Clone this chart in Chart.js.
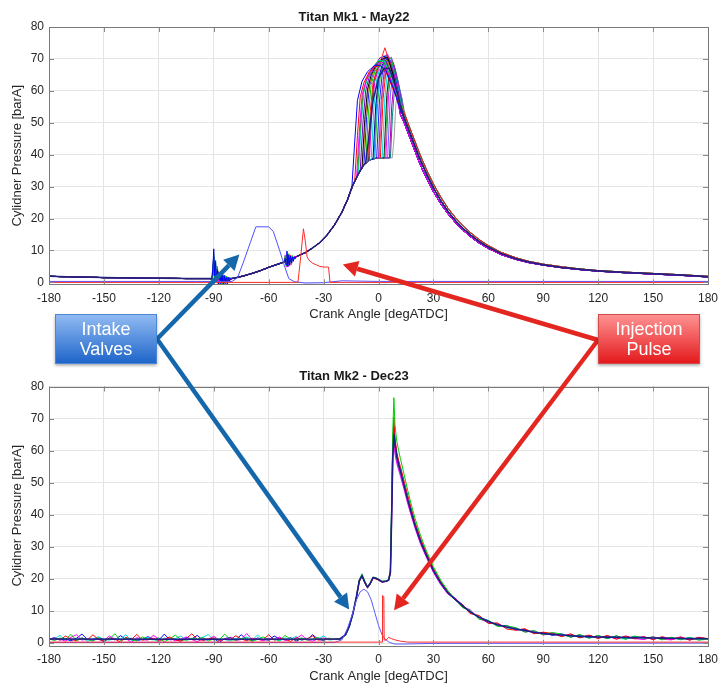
<!DOCTYPE html>
<html><head><meta charset="utf-8">
<script src="https://cdn.jsdelivr.net/npm/chart.js@4.4.1/dist/chart.umd.min.js"></script>
<style>
html,body{margin:0;padding:0;background:#fff;}
#wrap{position:relative;width:727px;height:684px;overflow:hidden;background:#fff;}
#c1{position:absolute;left:0;top:0;width:727px;height:330px;}
#c2{position:absolute;left:0;top:360px;width:727px;height:324px;}
#ov{position:absolute;left:0;top:0;width:727px;height:684px;pointer-events:none;}
</style></head><body>
<div id="wrap">
<canvas id="c1" width="727" height="330"></canvas>
<canvas id="c2" width="727" height="324"></canvas>
<canvas id="ov" width="727" height="684"></canvas>
</div>
<script>
// ---------------- DATA ----------------
const chartTitles = ['Titan Mk1 - May22', 'Titan Mk2 - Dec23'];
const xAxisTitle = 'Crank Angle [degATDC]';
const yAxisTitle = 'Cylidner Pressure [barA]';
const xTickValues = [-180,-150,-120,-90,-60,-30,0,30,60,90,120,150,180];
const yTickValues = [0,10,20,30,40,50,60,70,80];
const annotationLabels = [['Intake','Valves'], ['Injection','Pulse']];

// Mk1 shared compression stroke
const mk1CompAngle = [-180,-165,-150,-135,-120,-105,-95,-92,-90,-86,-83,-80,-76,-72,-68,-64,-60,-56,-52,-48,-44,-40,-36,-32,-28,-24,-20,-17,-14,-11,-8,-5,-2,0,3,6,9];
const mk1CompP     = [1.9,1.7,1.5,1.4,1.3,1.2,1.2,1.2,1.0,0.7,0.9,1.2,1.7,2.3,3.0,3.8,4.7,5.5,6.3,7.3,8.3,9.3,10.8,12.5,14.9,18.0,22.0,25.8,30.5,34.0,36.8,38.3,38.8,39.0,39.0,39.0,39.0];
// Mk1 expansion stroke variants
const mk1ExpAngle = [12,14,16,18,20,22,24,27,30,34,38,42,46,50,55,60,67,75,82,90,100,110,120,135,150,165,180];
const mk1ExpPA = [54,51.5,48.5,45.5,42.5,39.5,36.8,33,29.6,25.6,22.2,19.4,17,15,12.8,11,9,7.4,6.4,5.5,4.7,4.1,3.6,3.1,2.7,2.3,1.8];
const mk1ExpPB = [55.5,53,50,47,44,41,38.2,34.3,30.8,26.7,23.2,20.3,17.8,15.7,13.4,11.5,9.4,7.7,6.6,5.7,4.9,4.2,3.7,3.2,2.8,2.4,1.9];
const mk1ExpPC = [52.5,50,47,44,41,38,35.3,31.7,28.4,24.6,21.4,18.7,16.4,14.4,12.3,10.6,8.7,7.2,6.2,5.4,4.6,4.0,3.5,3.0,2.6,2.2,1.7];
// Mk1 combustion segments, one per cycle
const mk1BurnAngle = [
 [-7,-5,-3,0,3,6,9,12],
 [-14.5,-13,-11.5,-9,-6,-2,1,4,8],
 [-13,-11.5,-10,-8,-5,-2,1,4,8],
 [-12,-10.5,-9,-7,-4,-1,2,5,9],
 [-11.5,-10,-8.5,-6.5,-3.5,-0.5,2.5,5.5,9],
 [-11,-9.5,-8,-6,-3,0,3,6,9],
 [-10,-8.5,-7,-5,-2,1,4,7,10],
 [-9,-7.5,-6,-4,-1,2,5,8,10],
 [-8.5,-7,-5.5,-3.5,-0.5,2.5,5.5,8.5],
 [-8,-6.5,-5,-3,0,3,6,9],
 [-7,-5.5,-4,-2,1,4,7,10],
 [-6,-4.5,-3,-1,1.5,3.5,6,9],
 [-5.5,-4,-2.5,-0.5,2,4.5,7,10],
 [-5,-3.5,-2,0,2.5,5,8,10.5],
 [-4,-2.5,-1,1,3,5.5,8,11],
 [-3,-1.5,0,2,4,6,9,11],
 [-2.5,-1,0.5,2.5,4.5,6.5,9,11.5],
 [-2,-0.5,1,3,5,7,9,12],
 [-1,0.5,2,4,6,8,10,12],
 [0,1.5,3,5,7,9,11,13],
 [0.5,2,3.5,5.5,7.5,9.5,12],
 [1,2.5,4,6,8,10,12],
 [2,3.5,5,7,9,11,13],
 [3,4.5,6,8,10,12],
 [3.5,5,6.5,8.5,10.5,13],
 [4,5.5,7,9,11,13],
 [5,6.5,8,10,12],
 [6,7.2,8.5,10,12,14],
 [6.5,7.6,8.8,10.3,12.5],
 [7.5,8.5,9.5,11,12.5,14]
];
const mk1BurnP = [
 [37.3,47,57,64,67,67,62,55.5],
 [30.2,44,57,63,66,68,68,66.5,61],
 [31.7,46,58,62.5,66,67.5,68,66,60.5],
 [32.8,47,58.5,63,66.5,68.5,69,66,60],
 [33.4,48,59,63.5,67,69,69.5,66,60],
 [34,49,59.5,64,67.5,69.5,69.5,66,60.5],
 [35,50,60,64.5,68,70.5,69.5,65,59],
 [35.9,51,60.5,65,68.5,70,70.5,65,59.5],
 [36.3,51.5,61,65,69,70.5,69,62.5],
 [36.8,52,61.5,65.5,69,71,68.5,62],
 [37.3,53,62,66,68.5,69.5,66,59],
 [37.8,53.5,62.5,66.5,70,73.5,69,62],
 [38.1,54,63,67,70,71,67.5,60],
 [38.3,54.5,63,67,70.5,71.5,66,60],
 [38.5,55,63.5,67.5,70,69,65,58],
 [38.6,55.5,64,68,70,69.5,64,59],
 [38.7,56,64,68,70.5,69.5,64.5,59.5],
 [38.8,56,64.5,68.5,71,70,65,57],
 [39,56.5,65,69,70,68,63,57.5],
 [39,57,65.5,69.5,70.5,67,62,56],
 [39,57,65.5,69.5,69.5,65.5,57.5],
 [39,57.5,66,69.5,69,64,58],
 [39,58,66.5,69,67,62,56.5],
 [39,58.5,66.5,68,64,58.5],
 [39,58.5,67,68,63.5,56.5],
 [39,59,66.5,67,62,57],
 [39,59,65.5,64,58.5],
 [39,55,63,63,58,53],
 [39,52,61,62.5,57.5],
 [39,45,56,61,58.5,54]
];
const mk1CycleExp = ['A','A','B','C','A','B','C','A','B','C','A','B','C','A','B','C','A','B','C','A','B','C','A','B','C','A','B','C','A','B'];
const mk1CycleColor = ['#23237a','#0000ff','#ff0000','#ff00ff','#00b400','#00d8d8','#7a00c8','#000000','#e0a000','#0000ff','#00c800','#ff2020','#404040','#e000e0','#00d0e0','#000090','#00a0ff','#20c020','#2020ff','#9020d0','#ff6060','#ff0000','#00e0e0','#202020','#40c040','#ff00ff','#6060ff','#b000b0','#008080','#a0a0a0'];
// Mk1 noise bursts (sensor ringing)
const mk1NoiseAAngle = [-92,-91.5,-91,-90.5,-90,-89.5,-89,-88.5,-88,-87.5,-87,-86.5,-86,-85.5,-85,-84.5,-84,-83.5,-83,-82.5,-82,-81.5,-81,-80.5,-80];
const mk1NoiseAP = [
 [1.2,1.1,1.4,4,10.5,2,6.5,0.5,4,1,3.2,-0.6,2.5,0.3,1.8,-0.8,2.2,0.1,1.5,-0.5,1.6,0.4,1.3,0.9,1.2],
 [1.2,1.3,1.0,3,9,1.2,7,0.2,5,1.5,2.6,0.3,3.3,-0.4,2.1,0.6,1.2,-0.3,2.0,0.2,1.1,0.7,1.5,1.0,1.2],
 [1.2,1.0,1.5,2.2,6,0.8,4,2.2,0.5,3.4,0.9,2.5,0.2,1.9,-0.5,1.6,0.6,1.4,0.1,1.7,0.5,1.3,0.8,1.1,1.2],
 [1.2,1.2,0.9,1.8,5,2.6,3.5,0.6,2.8,0.2,2.4,1.0,0.4,2.6,0.6,1.2,2.0,0.0,1.3,0.9,0.3,1.6,0.9,1.3,1.2],
 [1.2,1.3,1.1,5,8,0.4,5.5,1.2,3.2,-0.9,2.6,0.8,1.5,-0.7,2.4,0.5,0.9,-1.0,1.8,0.3,1.2,0.2,1.0,1.4,1.2],
 [1.2,1.1,1.3,2.5,7,1.0,3.0,2.8,1.0,2.2,0.0,1.9,1.0,0.5,2.0,0.8,1.5,0.4,1.1,1.5,0.6,1.2,1.4,1.0,1.2]
];
const mk1NoiseBAngle = [-52,-51.5,-51,-50.5,-50,-49.5,-49,-48.5,-48,-47.5,-47,-46.5,-46,-45.5,-45];
const mk1NoiseBP = [
 [6.3,6.5,7.5,5.6,9.8,5.0,8.6,5.5,8.2,6.1,8.0,6.6,7.9,7.4,8.05],
 [6.3,6.4,8.2,5.3,8.8,5.6,9.0,6.0,7.2,5.8,8.4,6.8,7.6,7.8,8.05],
 [6.3,6.7,6.9,6.0,7.6,5.8,8.0,5.2,8.4,6.8,7.1,7.2,7.9,7.6,8.05],
 [6.3,6.3,8.6,4.9,9.0,4.8,7.8,6.5,8.6,5.6,7.9,7.0,8.2,7.5,8.05]
];
const mk1NoiseColor = ['#0000ff','#00c000','#ff0000','#ff00ff','#000080','#00d0d0'];
// Mk1 intake valve lift and injection pulse
const mk1ValveAngle = [-180,-100,-80,-77,-74,-70,-67,-60,-57.5,-54,-51,-49,-46,-40,-30,-20,0,180];
const mk1ValveP     = [0.3,0.3,0.3,1.5,6,12.5,17.4,17.4,16,10,4.5,1.2,0.2,-0.2,-0.1,0.5,0.3,0.3];
const mk1InjAngle = [-180,-44,-42.5,-41,-40,-39,-38,-36,-34,-32,-30,-28,-27.3,-26.5,180];
const mk1InjP     = [0,0,8,16.8,13,8,7,6,5.5,5,4.8,4.8,4.8,0,0];

// Mk2 noisy intake stroke, 3 deg steps
const mk2BaseAngle = [-180,-177,-174,-171,-168,-165,-162,-159,-156,-153,-150,-147,-144,-141,-138,-135,-132,-129,-126,-123,-120,-117,-114,-111,-108,-105,-102,-99,-96,-93,-90,-87,-84,-81,-78,-75,-72,-69,-66,-63,-60,-57,-54,-51,-48,-45,-42,-39,-36,-33,-30,-27,-24];
const mk2BaseP = [
 [1.3,0.8,1.6,1.1,2.7,0.9,1.4,1.2,0.6,1.7,1.0,1.3,2.9,0.8,1.5,1.1,0.7,1.9,1.2,1.0,1.6,0.4,1.3,2.5,1.1,0.9,1.5,1.2,1.8,0.7,1.3,1.0,2.8,1.1,0.9,1.4,1.6,0.5,1.2,1.9,1.0,1.3,0.8,2.4,1.2,1.0,1.6,0.9,1.3,1.7,1.0,1.4,1.2],
 [1.0,1.5,0.9,2.2,1.2,0.7,1.6,1.0,2.6,1.1,0.8,1.4,1.2,0.3,1.8,1.1,2.7,0.9,1.3,1.5,0.8,1.2,1.9,1.0,0.6,1.4,2.9,1.1,0.9,1.3,1.6,0.8,1.2,1.0,2.3,1.3,0.7,1.5,1.1,1.0,2.6,0.9,1.4,1.2,0.5,1.7,1.0,1.3,2.2,0.9,1.2,1.5,1.1],
 [1.5,1.0,1.2,0.6,1.8,2.6,0.9,1.3,1.1,1.6,0.8,2.2,1.2,1.0,1.4,0.2,1.7,1.1,0.9,2.4,1.3,1.0,1.5,0.7,1.2,1.9,1.1,0.4,1.4,1.2,2.1,0.9,1.3,1.6,0.8,1.1,3.0,1.0,1.3,0.7,1.5,1.2,1.9,0.8,1.1,1.4,2.5,1.0,0.6,1.3,1.6,1.1,1.2],
 [1.1,1.4,2.4,0.8,1.2,1.0,1.7,0.5,1.3,2.0,1.1,0.9,1.5,1.2,2.6,0.7,1.3,1.0,1.8,1.2,0.3,1.6,1.1,1.4,2.2,0.9,1.2,1.0,1.7,2.7,0.8,1.4,1.1,0.6,1.5,1.2,1.9,1.0,2.5,0.9,1.3,1.1,0.7,1.6,1.2,2.1,0.8,1.4,1.0,1.2,2.3,0.9,1.2],
 [1.2,1.7,1.0,1.3,0.7,1.5,2.8,1.1,0.9,1.4,0.4,1.6,1.0,2.3,1.2,1.5,0.8,1.1,2.0,1.3,0.9,2.8,1.0,1.2,0.6,1.7,1.3,2.4,0.9,1.1,1.5,0.2,1.4,1.8,1.0,2.6,1.2,0.8,1.6,1.1,0.9,2.2,1.3,1.0,1.7,0.6,1.4,1.1,2.6,1.2,0.8,1.5,1.2]
];
const mk2MeanBaseAngle = [-180,-100,-24];
const mk2MeanBaseP = [1.25,1.2,1.25];
// Mk2 compression + combustion + early expansion
const mk2BurnAngle = [-21,-18,-16,-14,-12,-10.5,-9,-7.5,-6,-4.5,-3,-1.5,0,2,4,5.5,6.5,7.2,7.8,8.4,9,10,11,12,14,16,18,20,23,26,30,34,38];
const mk2BurnP = [
 [1.3,2.6,5.2,9.2,14.6,19.4,21.0,19.0,17.4,18.6,20.4,20.2,19.8,19.1,19.3,19.6,22.0,40,58,65,62,58,55.5,53.5,49,44.5,40.5,36.6,31.6,27.6,22.6,18.7,15.6],
 [1.2,2.4,5.0,9.0,14.8,19.8,21.6,19.4,17.6,18.9,20.6,20.4,19.9,19.3,19.4,19.8,23.0,45,66,76.5,68,63,60,57.5,52.5,47.5,43,38.8,33.5,29,23.8,19.6,16.3],
 [1.4,2.7,5.4,9.4,14.4,19.2,20.8,18.8,17.2,18.4,20.2,20.0,19.6,19.0,19.2,19.5,21.8,42,62,70.5,64,59.5,57,55,50.5,46,41.8,37.6,32.6,28.4,23.2,19.2,15.9],
 [1.2,2.5,5.1,9.1,14.5,19.5,20.9,18.9,17.3,18.5,20.3,20.1,19.7,19.1,19.2,19.5,21.5,38,56,62,59,56,54,52,47.8,43.4,39.5,35.7,30.8,26.9,22.0,18.2,15.2],
 [1.3,2.6,5.3,9.3,14.7,19.6,21.2,19.1,17.5,18.7,20.5,20.3,19.8,19.2,19.4,19.7,22.2,41,59,64,60,56.5,54.5,52.8,48.5,44,40,36.2,31.3,27.3,22.3,18.5,15.4],
 [1.2,2.5,5.0,9.0,14.4,19.3,20.9,18.9,17.3,18.5,20.3,20.1,19.7,19.1,19.3,19.6,22.5,43,63,67.5,63,58.5,56,54,49.2,44.8,40.8,36.8,31.8,27.8,22.7,18.8,15.7]
];
// Mk2 late expansion / exhaust
const mk2TailAngle = [42,46,50,55,60,65,70,75,80,85,90,95,100,105,110,115,120,125,130,135,140,145,150,155,160,165,170,175,180];
const mk2TailP = [
 [13.6,11.5,9.8,8.0,6.7,5.7,5.0,4.4,3.9,3.4,3.0,2.7,2.5,2.3,2.1,2.0,1.9,1.85,1.8,1.75,1.7,1.65,1.6,1.55,1.5,1.45,1.4,1.4,1.35],
 [13.6,11.0,10.2,7.4,7.1,5.2,5.4,4.8,3.4,3.9,2.6,3.3,2.8,1.8,2.7,1.5,2.4,1.4,2.3,1.2,2.2,1.5,1.9,1.0,1.8,1.1,1.7,0.9,1.3],
 [13.3,12.0,9.2,8.6,6.1,6.3,4.4,4.0,4.5,2.9,3.4,3.0,2.0,2.9,1.6,2.5,1.4,2.4,1.2,2.2,1.3,2.0,1.1,2.0,1.2,1.9,0.9,1.8,1.4],
 [14.0,11.3,10.4,7.6,6.4,5.9,5.0,4.6,3.5,3.8,2.5,3.1,2.3,2.6,1.9,2.4,1.6,2.1,1.3,2.2,1.4,1.1,2.0,1.2,1.0,1.9,1.1,1.6,1.3],
 [13.4,11.7,9.4,8.4,6.2,6.1,4.6,4.8,3.5,3.8,2.6,3.1,2.1,2.7,1.7,2.4,1.5,2.3,1.4,1.3,2.1,1.2,1.9,1.1,1.8,1.0,1.8,1.0,1.4],
 [13.8,11.9,9.6,8.1,7.0,5.3,5.5,4.1,4.2,3.1,3.3,2.4,2.9,1.9,2.5,1.6,2.3,1.4,2.2,1.3,1.8,1.9,1.2,1.8,1.1,1.7,1.0,1.7,1.3]
];
const mk2TraceColor = ['#1c1c8c','#00d000','#ff0000','#ff00ff','#00e0e0','#0000ff'];
// Mk2 intake valve lift and injection pulse
const mk2ValveAngle = [-180,-24,-20,-17,-14,-12,-10,-8,-6,-4,-2,0,2,4,6,9,14,30,180];
const mk2ValveP     = [0.2,0.2,1.0,4.5,9.5,13.5,16,16.8,16,13.5,9.5,5.5,2.5,1.0,0.2,-0.3,-0.3,-0.1,0.0];
const mk2InjAngle = [-180,2.0,2.2,2.9,3.1,4.2,5.5,7,9,12,16,180];
const mk2InjP     = [0.3,0.3,14.8,14.5,0.9,1.0,1.8,1.4,1.0,0.6,0.3,0.3];

// Arrow targets in data coordinates [chart index, angle, pressure]
const intakeArrowTargets = [[0,-76,8.7],[1,-16,10.5]];
const injectionArrowTargets = [[0,-19.5,5.6],[1,8.5,10.2]];

// ---------------- BUILD ----------------
const FONT = '"Liberation Sans", Arial, Helvetica, sans-serif';
function zipPts(a, p){ return a.map((x,i)=>({x:x, y:p[i]})); }
function assemble(cA, cP, bA, bP, eA, eP){
  const pts=[];
  for(let i=0;i<cA.length;i++) if(cA[i]<bA[0]) pts.push({x:cA[i],y:cP[i]});
  for(let i=0;i<bA.length;i++) pts.push({x:bA[i],y:bP[i]});
  const last=bA[bA.length-1];
  for(let i=0;i<eA.length;i++) if(eA[i]>last) pts.push({x:eA[i],y:eP[i]});
  return pts;
}
function ds(data, color, w){ return {data:data, borderColor:color, borderWidth:w||1, pointRadius:0, fill:false, tension:0}; }

const expMap = {A:mk1ExpPA, B:mk1ExpPB, C:mk1ExpPC};
const ds1 = [];
ds1.push(ds(zipPts(mk1InjAngle, mk1InjP), '#ff2a2a', 1));
ds1.push(ds(zipPts(mk1ValveAngle, mk1ValveP), '#5050ff', 1));
mk1NoiseAP.forEach((p,i)=>ds1.push(ds(zipPts(mk1NoiseAAngle,p), mk1NoiseColor[i], 1)));
mk1NoiseBP.forEach((p,i)=>ds1.push(ds(zipPts(mk1NoiseBAngle,p), mk1NoiseColor[i], 1)));
mk1BurnAngle.forEach((bA,i)=>{
  ds1.push(ds(assemble(mk1CompAngle, mk1CompP, bA, mk1BurnP[i], mk1ExpAngle, expMap[mk1CycleExp[i]]), mk1CycleColor[i], i===0?1.5:1));
});

const ds2 = [];
ds2.push(ds(zipPts(mk2InjAngle, mk2InjP), '#ff2a2a', 1));
ds2.push(ds(zipPts(mk2ValveAngle, mk2ValveP), '#5a5aff', 1));
mk2BurnP.forEach((bP,i)=>{
  const bA = i===0 ? mk2MeanBaseAngle : mk2BaseAngle;
  const bp = i===0 ? mk2MeanBaseP : mk2BaseP[i-1];
  const pts = zipPts(bA,bp).concat(zipPts(mk2BurnAngle,bP)).concat(zipPts(mk2TailAngle, mk2TailP[i]));
  ds2.push(ds(pts, mk2TraceColor[i], i===0?1.6:1));
});

const boxPlugin = {
  id:'matlabBox',
  afterDatasetsDraw(chart){
    const {ctx, chartArea:a} = chart;
    const xs = chart.scales.x, ys = chart.scales.y;
    ctx.save();
    ctx.strokeStyle = '#8a8a8a'; ctx.lineWidth = 1;
    ctx.beginPath();
    xTickValues.forEach(v=>{ const p=Math.round(xs.getPixelForValue(v))+0.5;
      ctx.moveTo(p,a.bottom); ctx.lineTo(p,a.bottom-5); ctx.moveTo(p,a.top); ctx.lineTo(p,a.top+5); });
    yTickValues.forEach(v=>{ const p=Math.round(ys.getPixelForValue(v))+0.5;
      ctx.moveTo(a.left,p); ctx.lineTo(a.left+5,p); ctx.moveTo(a.right,p); ctx.lineTo(a.right-5,p); });
    ctx.stroke();
    ctx.strokeStyle = '#7a7a7a';
    ctx.strokeRect(Math.round(a.left)+0.5, Math.round(a.top)+0.5, Math.round(a.right-a.left), Math.round(a.bottom-a.top));
    ctx.restore();
  }
};

function makeOptions(title, titlePadTop, xHeight, xTitlePadBottom){
  return {
    responsive:false, animation:false, events:[],
    layout:{padding:{left:0,right:19,top:0,bottom:0}},
    plugins:{legend:{display:false}, tooltip:{enabled:false},
      title:{display:true, text:title, color:'#1a1a1a', font:{family:FONT,size:13,weight:'bold',lineHeight:1.1}, padding:{top:titlePadTop,bottom:2.8}}},
    scales:{
      x:{type:'linear', min:-180, max:180,
         afterBuildTicks:s=>{ s.ticks = xTickValues.map(v=>({value:v})); },
         afterFit:s=>{ s.height = xHeight; },
         grid:{color:'#e4e4e4', drawTicks:false, lineWidth:1}, border:{display:false},
         ticks:{color:'#262626', font:{family:FONT,size:12}, padding:7, maxRotation:0, autoSkip:false},
         title:{display:true, text:xAxisTitle, color:'#262626', font:{family:FONT,size:13}, padding:{top:0,bottom:xTitlePadBottom}}},
      y:{type:'linear', min:-0.6, max:80,
         afterBuildTicks:s=>{ s.ticks = yTickValues.map(v=>({value:v})); },
         afterFit:s=>{ s.width = 49; },
         grid:{color:'#e4e4e4', drawTicks:false, lineWidth:1}, border:{display:false},
         ticks:{color:'#262626', font:{family:FONT,size:12}, padding:5, autoSkip:false},
         title:{display:true, text:yAxisTitle, color:'#262626', font:{family:FONT,size:13}, padding:{top:9.2,bottom:0}}}
    }
  };
}

const chart1 = new Chart(document.getElementById('c1'), {type:'line', data:{datasets:ds1}, options:makeOptions(chartTitles[0], 9.9, 45.7, 8.2), plugins:[boxPlugin]});
const chart2 = new Chart(document.getElementById('c2'), {type:'line', data:{datasets:ds2}, options:makeOptions(chartTitles[1], 9.4, 39, 0.2), plugins:[boxPlugin]});
const chartOffsets = [0, 360];
const charts = [chart1, chart2];

// ---------------- ANNOTATIONS ----------------
const ov = document.getElementById('ov').getContext('2d');
const boxes = [
  {label:annotationLabels[0], x0:55, y0:314, x1:157, y1:364, top:'#93bcf3', bot:'#1c63c9', edge:'#4c86d6', arrow:'#1467aa', anchor:[157,339], targets:intakeArrowTargets},
  {label:annotationLabels[1], x0:598, y0:314, x1:700, y1:364, top:'#ff9494', bot:'#e3181a', edge:'#d24a4a', arrow:'#e3261f', anchor:[598,340], targets:injectionArrowTargets}
];
function arrow(ctx, x0, y0, x1, y1, color){
  const ang = Math.atan2(y1-y0, x1-x0), hl = 15, hw = 8;
  const bx = x1 - hl*Math.cos(ang), by = y1 - hl*Math.sin(ang);
  ctx.save();
  ctx.strokeStyle = color; ctx.fillStyle = color; ctx.lineWidth = 4.5; ctx.lineCap='butt';
  ctx.beginPath(); ctx.moveTo(x0,y0); ctx.lineTo(bx,by); ctx.stroke();
  ctx.beginPath(); ctx.moveTo(x1,y1);
  ctx.lineTo(bx + hw*Math.sin(ang), by - hw*Math.cos(ang));
  ctx.lineTo(bx - hw*Math.sin(ang), by + hw*Math.cos(ang));
  ctx.closePath(); ctx.fill();
  ctx.restore();
}
boxes.forEach(b=>{
  b.targets.forEach(t=>{
    const c = charts[t[0]];
    const tx = c.scales.x.getPixelForValue(t[1]);
    const ty = c.scales.y.getPixelForValue(t[2]) + chartOffsets[t[0]];
    arrow(ov, b.anchor[0], b.anchor[1], tx, ty, b.arrow);
  });
});
boxes.forEach(b=>{
  ov.save();
  ov.shadowColor='rgba(0,0,0,0.35)'; ov.shadowBlur=3; ov.shadowOffsetY=1.5;
  const g = ov.createLinearGradient(0,b.y0,0,b.y1);
  g.addColorStop(0,b.top); g.addColorStop(1,b.bot);
  ov.fillStyle = g; ov.fillRect(b.x0,b.y0,b.x1-b.x0,b.y1-b.y0);
  ov.restore();
  ov.save();
  ov.strokeStyle = b.edge; ov.lineWidth = 1;
  ov.strokeRect(b.x0+0.5,b.y0+0.5,b.x1-b.x0-1,b.y1-b.y0-1);
  ov.fillStyle = '#ffffff'; ov.font = '18px ' + FONT; ov.textAlign='center'; ov.textBaseline='middle';
  const cx = (b.x0+b.x1)/2;
  ov.fillText(b.label[0], cx, b.y0+16);
  ov.fillText(b.label[1], cx, b.y0+36);
  ov.restore();
});
</script>
</body></html>
